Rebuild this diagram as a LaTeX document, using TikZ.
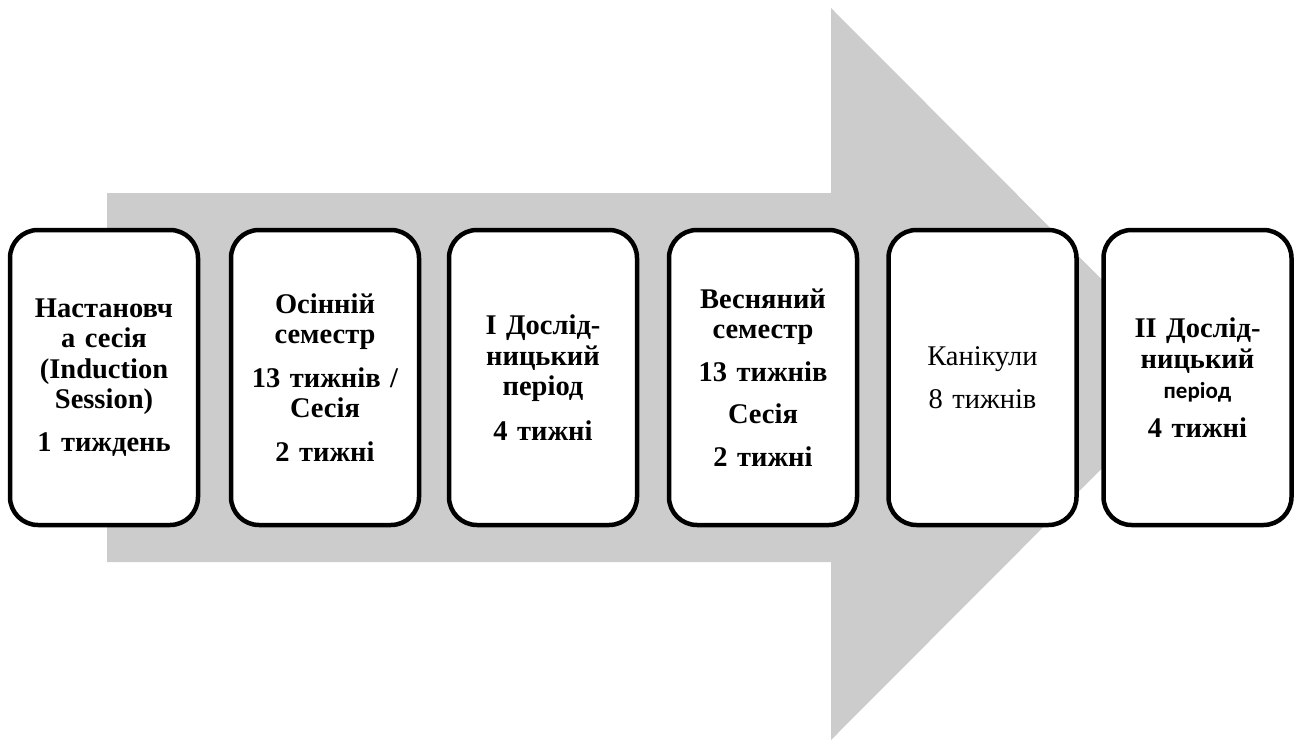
\documentclass[tikz,border=0pt]{standalone}
\usepackage{fontspec}
\setmainfont{Liberation Serif}
\newfontfamily\carlito{Carlito}
\definecolor{arrowgray}{RGB}{204,204,204}
\tikzset{
  stagebox/.style={draw=black, line width=4.5pt, fill=white, rounded corners=28pt,
    minimum width=188pt, minimum height=295pt, inner sep=0pt,
    align=center, text width=184pt,
    font=\fontsize{28.5}{30.5}\selectfont\bfseries},
  stageplain/.style={stagebox, font=\fontsize{28.5}{30.5}\selectfont},
}
\begin{document}
\begin{tikzpicture}[x=1pt,y=-1pt]
\useasboundingbox (0,0) rectangle (1301,744);
% big background arrow
\fill[arrowgray] (107,193) -- (831,193) -- (831,8) -- (1196,374) -- (831,740) -- (831,562) -- (107,562) -- cycle;
% stages
\node[stagebox] (b1) at (104,377.5) {Настановч\\а сесія\\(Induction\\Session)\\[12pt]1 тиждень};
\node[stagebox] (b2) at (325,377.5) {Осінній\\семестр\\[13pt]13 тижнів /\\Сесія\\[13pt]2 тижні};
\node[stagebox] (b3) at (543,377.5) {І Дослід-\\ницький\\період\\[14pt]4 тижні};
\node[stagebox] (b4) at (763,377.5) {Весняний\\семестр\\[12pt]13 тижнів\\[12pt]Сесія\\[12pt]2 тижні};
\node[stageplain] (b5) at (982.5,377.5) {Канікули\\[12pt]8 тижнів};
\node[stagebox] (b6) at (1197.5,377.5) {ІІ Дослід-\\ницький\\{\carlito\bfseries\fontsize{23}{25}\selectfont період}\\[8pt]4 тижні};
\end{tikzpicture}
\end{document}
